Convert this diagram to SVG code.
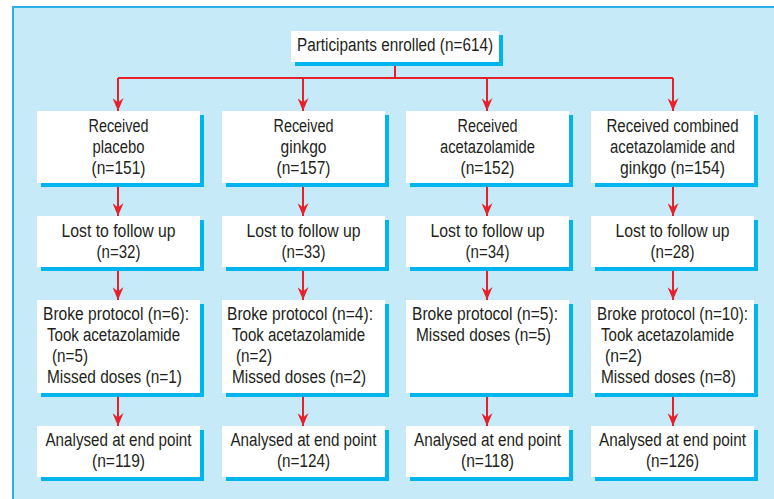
<svg xmlns="http://www.w3.org/2000/svg" width="774" height="499" viewBox="0 0 774 499">
<defs>
<style>
.bg{fill:#c7eaf9}
.edge{stroke:#2bb0e6;stroke-width:2;fill:none}
.box{fill:#ffffff}
.sh{fill:#00b4ee}
.t{font-family:"Liberation Sans",Arial,sans-serif;font-size:18px;fill:#231f20}
.m{text-anchor:middle}
.c{stroke:#e8202a;stroke-width:2;fill:none}
.a{stroke:#e8202a;stroke-width:2;fill:none;marker-end:url(#ah)}
</style>
<marker id="ah" viewBox="0 0 13 11" refX="13" refY="5.5" markerWidth="13" markerHeight="11" markerUnits="userSpaceOnUse" orient="auto">
<path d="M0,0 L13,5.5 L0,11 L4.5,5.5 Z" fill="#e8202a"/>
</marker>
</defs>
<rect class="bg" x="13" y="7" width="761" height="492"/>
<path class="edge" d="M13,499 V7 H774"/>

<g id="connectors">
<path class="c" d="M395,62 V78 M118,78 H673"/>
<path class="a" d="M118,78 V111"/>
<path class="a" d="M303,78 V111"/>
<path class="a" d="M487,78 V111"/>
<path class="a" d="M673,78 V111"/>
<path class="a" d="M118,183 V216"/>
<path class="a" d="M303,183 V216"/>
<path class="a" d="M487,183 V216"/>
<path class="a" d="M673,183 V216"/>
<path class="a" d="M118,267 V300"/>
<path class="a" d="M303,267 V300"/>
<path class="a" d="M487,267 V300"/>
<path class="a" d="M673,267 V300"/>
<path class="a" d="M118,393 V426"/>
<path class="a" d="M303,393 V426"/>
<path class="a" d="M487,393 V426"/>
<path class="a" d="M673,393 V426"/>
</g>

<g id="enrolled">
<rect class="sh" x="295" y="35" width="208" height="31"/>
<rect class="box" x="291" y="31" width="208" height="31"/>
<text class="t m" x="395" y="51" textLength="196" lengthAdjust="spacingAndGlyphs">Participants enrolled (n=614)</text>
</g>

<g id="received-placebo">
<rect class="sh" x="41" y="115" width="163" height="72"/>
<rect class="box" x="37" y="111" width="163" height="72"/>
<text class="t m" x="118.5" y="132" textLength="60" lengthAdjust="spacingAndGlyphs">Received</text>
<text class="t m" x="118.5" y="153" textLength="52" lengthAdjust="spacingAndGlyphs">placebo</text>
<text class="t m" x="118.5" y="174" textLength="54" lengthAdjust="spacingAndGlyphs">(n=151)</text>
</g>
<g id="received-ginkgo">
<rect class="sh" x="226" y="115" width="163" height="72"/>
<rect class="box" x="222" y="111" width="163" height="72"/>
<text class="t m" x="303.5" y="132" textLength="60" lengthAdjust="spacingAndGlyphs">Received</text>
<text class="t m" x="303.5" y="153" textLength="46" lengthAdjust="spacingAndGlyphs">ginkgo</text>
<text class="t m" x="303.5" y="174" textLength="54" lengthAdjust="spacingAndGlyphs">(n=157)</text>
</g>
<g id="received-acetazolamide">
<rect class="sh" x="410" y="115" width="163" height="72"/>
<rect class="box" x="406" y="111" width="163" height="72"/>
<text class="t m" x="487.5" y="132" textLength="60" lengthAdjust="spacingAndGlyphs">Received</text>
<text class="t m" x="487.5" y="153" textLength="95" lengthAdjust="spacingAndGlyphs">acetazolamide</text>
<text class="t m" x="487.5" y="174" textLength="54" lengthAdjust="spacingAndGlyphs">(n=152)</text>
</g>
<g id="received-combined">
<rect class="sh" x="595" y="115" width="163" height="72"/>
<rect class="box" x="591" y="111" width="163" height="72"/>
<text class="t m" x="672.5" y="132" textLength="132" lengthAdjust="spacingAndGlyphs">Received combined</text>
<text class="t m" x="672.5" y="153" textLength="125" lengthAdjust="spacingAndGlyphs">acetazolamide and</text>
<text class="t m" x="672.5" y="174" textLength="105" lengthAdjust="spacingAndGlyphs">ginkgo (n=154)</text>
</g>

<g id="lost-placebo">
<rect class="sh" x="41" y="220" width="163" height="51"/>
<rect class="box" x="37" y="216" width="163" height="51"/>
<text class="t m" x="118.5" y="237" textLength="114" lengthAdjust="spacingAndGlyphs">Lost to follow up</text>
<text class="t m" x="118.5" y="258" textLength="44" lengthAdjust="spacingAndGlyphs">(n=32)</text>
</g>
<g id="lost-ginkgo">
<rect class="sh" x="226" y="220" width="163" height="51"/>
<rect class="box" x="222" y="216" width="163" height="51"/>
<text class="t m" x="303.5" y="237" textLength="114" lengthAdjust="spacingAndGlyphs">Lost to follow up</text>
<text class="t m" x="303.5" y="258" textLength="44" lengthAdjust="spacingAndGlyphs">(n=33)</text>
</g>
<g id="lost-acetazolamide">
<rect class="sh" x="410" y="220" width="163" height="51"/>
<rect class="box" x="406" y="216" width="163" height="51"/>
<text class="t m" x="487.5" y="237" textLength="114" lengthAdjust="spacingAndGlyphs">Lost to follow up</text>
<text class="t m" x="487.5" y="258" textLength="44" lengthAdjust="spacingAndGlyphs">(n=34)</text>
</g>
<g id="lost-combined">
<rect class="sh" x="595" y="220" width="163" height="51"/>
<rect class="box" x="591" y="216" width="163" height="51"/>
<text class="t m" x="672.5" y="237" textLength="114" lengthAdjust="spacingAndGlyphs">Lost to follow up</text>
<text class="t m" x="672.5" y="258" textLength="44" lengthAdjust="spacingAndGlyphs">(n=28)</text>
</g>

<g id="broke-placebo">
<rect class="sh" x="41" y="304" width="163" height="93"/>
<rect class="box" x="37" y="300" width="163" height="93"/>
<text class="t" x="43" y="320" textLength="146" lengthAdjust="spacingAndGlyphs">Broke protocol (n=6):</text>
<text class="t" x="47" y="341" textLength="133" lengthAdjust="spacingAndGlyphs">Took acetazolamide</text>
<text class="t" x="52" y="362" textLength="36" lengthAdjust="spacingAndGlyphs">(n=5)</text>
<text class="t" x="47" y="383" textLength="135" lengthAdjust="spacingAndGlyphs">Missed doses (n=1)</text>
</g>
<g id="broke-ginkgo">
<rect class="sh" x="226" y="304" width="163" height="93"/>
<rect class="box" x="222" y="300" width="163" height="93"/>
<text class="t" x="227" y="320" textLength="146" lengthAdjust="spacingAndGlyphs">Broke protocol (n=4):</text>
<text class="t" x="232" y="341" textLength="133" lengthAdjust="spacingAndGlyphs">Took acetazolamide</text>
<text class="t" x="236" y="362" textLength="36" lengthAdjust="spacingAndGlyphs">(n=2)</text>
<text class="t" x="232" y="383" textLength="134" lengthAdjust="spacingAndGlyphs">Missed doses (n=2)</text>
</g>
<g id="broke-acetazolamide">
<rect class="sh" x="410" y="304" width="163" height="93"/>
<rect class="box" x="406" y="300" width="163" height="93"/>
<text class="t" x="412" y="320" textLength="146" lengthAdjust="spacingAndGlyphs">Broke protocol (n=5):</text>
<text class="t" x="416" y="341" textLength="135" lengthAdjust="spacingAndGlyphs">Missed doses (n=5)</text>
</g>
<g id="broke-combined">
<rect class="sh" x="595" y="304" width="163" height="93"/>
<rect class="box" x="591" y="300" width="163" height="93"/>
<text class="t" x="597" y="320" textLength="151" lengthAdjust="spacingAndGlyphs">Broke protocol (n=10):</text>
<text class="t" x="601" y="341" textLength="133" lengthAdjust="spacingAndGlyphs">Took acetazolamide</text>
<text class="t" x="605" y="362" textLength="37" lengthAdjust="spacingAndGlyphs">(n=2)</text>
<text class="t" x="601" y="383" textLength="135" lengthAdjust="spacingAndGlyphs">Missed doses (n=8)</text>
</g>

<g id="analysed-placebo">
<rect class="sh" x="41" y="430" width="163" height="51"/>
<rect class="box" x="37" y="426" width="163" height="51"/>
<text class="t m" x="118.5" y="446" textLength="146" lengthAdjust="spacingAndGlyphs">Analysed at end point</text>
<text class="t m" x="118.5" y="467" textLength="53" lengthAdjust="spacingAndGlyphs">(n=119)</text>
</g>
<g id="analysed-ginkgo">
<rect class="sh" x="226" y="430" width="163" height="51"/>
<rect class="box" x="222" y="426" width="163" height="51"/>
<text class="t m" x="303.5" y="446" textLength="146" lengthAdjust="spacingAndGlyphs">Analysed at end point</text>
<text class="t m" x="303.5" y="467" textLength="53" lengthAdjust="spacingAndGlyphs">(n=124)</text>
</g>
<g id="analysed-acetazolamide">
<rect class="sh" x="410" y="430" width="163" height="51"/>
<rect class="box" x="406" y="426" width="163" height="51"/>
<text class="t m" x="487.5" y="446" textLength="147" lengthAdjust="spacingAndGlyphs">Analysed at end point</text>
<text class="t m" x="487.5" y="467" textLength="53" lengthAdjust="spacingAndGlyphs">(n=118)</text>
</g>
<g id="analysed-combined">
<rect class="sh" x="595" y="430" width="163" height="51"/>
<rect class="box" x="591" y="426" width="163" height="51"/>
<text class="t m" x="672.5" y="446" textLength="147" lengthAdjust="spacingAndGlyphs">Analysed at end point</text>
<text class="t m" x="672.5" y="467" textLength="53" lengthAdjust="spacingAndGlyphs">(n=126)</text>
</g>
</svg>
